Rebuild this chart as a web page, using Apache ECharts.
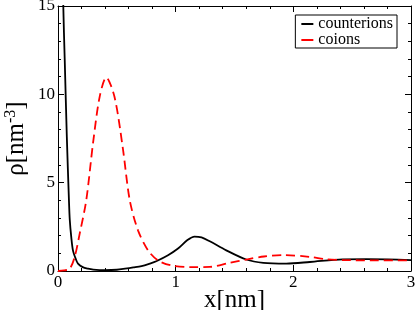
<!DOCTYPE html>
<html>
<head>
<meta charset="utf-8">
<script src="https://cdn.jsdelivr.net/npm/echarts@6/dist/echarts.min.js"></script>
<style>
html,body{margin:0;padding:0;background:#fff;}
#c{width:415px;height:310px;}
</style>
</head>
<body>
<div id="c"></div>
<script>
var counterX = [0.03, 0.045, 0.057, 0.075, 0.093, 0.1, 0.113, 0.127, 0.15, 0.17, 0.21, 0.255, 0.3, 0.4, 0.5, 0.57, 0.64, 0.71, 0.78, 0.835, 0.935, 1.02, 1.1, 1.16, 1.22, 1.29, 1.43, 1.6, 1.745, 1.94, 2.14, 2.42, 2.62, 2.8, 3.0];
var counterY = [22, 15, 12, 7.6, 4.0, 2.9, 1.9, 1.17, 0.7, 0.42, 0.22, 0.13, 0.08, 0.05, 0.07, 0.13, 0.2, 0.28, 0.42, 0.55, 0.89, 1.27, 1.75, 1.95, 1.9, 1.68, 1.17, 0.65, 0.46, 0.42, 0.51, 0.66, 0.67, 0.66, 0.62];
var coX = [0, 0.05, 0.1, 0.142, 0.184, 0.24, 0.297, 0.354, 0.41, 0.48, 0.55, 0.61, 0.68, 0.765, 0.85, 0.96, 1.13, 1.29, 1.46, 1.6, 1.75, 1.92, 2.14, 2.28, 2.42, 2.71, 3.0];
var coY = [0, 0.03, 0.13, 0.8, 2.1, 4.0, 7.2, 9.86, 10.96, 9.86, 7.0, 4.0, 2.3, 1.17, 0.6, 0.32, 0.22, 0.23, 0.47, 0.65, 0.82, 0.9, 0.8, 0.66, 0.62, 0.6, 0.6];
var seriesNames = ['counterions', 'coions'];
var xTicks = [0, 1, 2, 3];
var yTicks = [0, 5, 10, 15];

function pairs(xs, ys) { return xs.map(function (x, i) { return [x, ys[i]]; }); }

var FONT = 'Liberation Serif';
var chart = echarts.init(document.getElementById('c'), null, {renderer: 'canvas'});

function xAx(pos, showLabel) {
  return {
    type: 'value', position: pos, min: xTicks[0], max: xTicks[xTicks.length - 1], interval: 1,
    axisLine: {show: true, onZero: false, lineStyle: {color: '#000', width: 1}},
    axisTick: {show: true, inside: true, length: 6, lineStyle: {color: '#000'}},
    minorTick: {show: true, splitNumber: 5, length: 3, lineStyle: {color: '#000'}},
    splitLine: {show: false},
    axisLabel: {show: showLabel, margin: 3, color: '#000', fontFamily: FONT, fontSize: 17},
    name: showLabel ? 'x[nm]' : '', nameLocation: 'middle', nameGap: 17, nameMoveOverlap: false,
    nameTextStyle: {color: '#000', fontFamily: FONT, fontSize: 25}
  };
}
function yAx(pos, showLabel) {
  return {
    type: 'value', position: pos, min: yTicks[0], max: yTicks[yTicks.length - 1], interval: 5,
    axisLine: {show: true, onZero: false, lineStyle: {color: '#000', width: 1}},
    axisTick: {show: true, inside: true, length: 6, lineStyle: {color: '#000'}},
    minorTick: {show: true, splitNumber: 5, length: 3, lineStyle: {color: '#000'}},
    splitLine: {show: false},
    axisLabel: {show: showLabel, margin: 3, color: '#000', fontFamily: FONT, fontSize: 17},
    name: showLabel ? 'ρ[nm{sup|-3}]' : '', nameLocation: 'middle', nameGap: 29, nameMoveOverlap: false,
    nameTextStyle: {color: '#000', fontFamily: FONT, fontSize: 25,
      rich: {sup: {fontFamily: FONT, fontSize: 16, verticalAlign: 'top', padding: [0, 0, 10, 0], color: '#000'}}}
  };
}

chart.setOption({
  animation: false,
  backgroundColor: '#fff',
  grid: {left: 58, right: 4, top: 6, bottom: 39, containLabel: false, outerBoundsMode: 'none'},
  legend: {
    orient: 'vertical', right: 18, top: 15,
    icon: 'rect', itemWidth: 12, itemHeight: 2, itemGap: 0,
    padding: [1, 4, 0, 6],
    borderColor: '#000', borderWidth: 1, borderRadius: 0,
    textStyle: {color: '#000', fontFamily: FONT, fontSize: 16},
    data: seriesNames
  },
  xAxis: [xAx('bottom', true), xAx('top', false)],
  yAxis: [yAx('left', true), yAx('right', false)],
  series: [
    {name: seriesNames[0], type: 'line', xAxisIndex: 0, yAxisIndex: 0, data: pairs(counterX, counterY),
      showSymbol: false, symbol: 'none', smooth: 0.3, clip: true,
      lineStyle: {color: '#000', width: 1.8}, itemStyle: {color: '#000'}},
    {name: seriesNames[1], type: 'line', xAxisIndex: 0, yAxisIndex: 0, data: pairs(coX, coY),
      showSymbol: false, symbol: 'none', smooth: 0.3, clip: true,
      lineStyle: {color: '#ff0000', width: 1.8, type: [9, 5]}, itemStyle: {color: '#ff0000'}}
  ]
});
</script>
</body>
</html>
